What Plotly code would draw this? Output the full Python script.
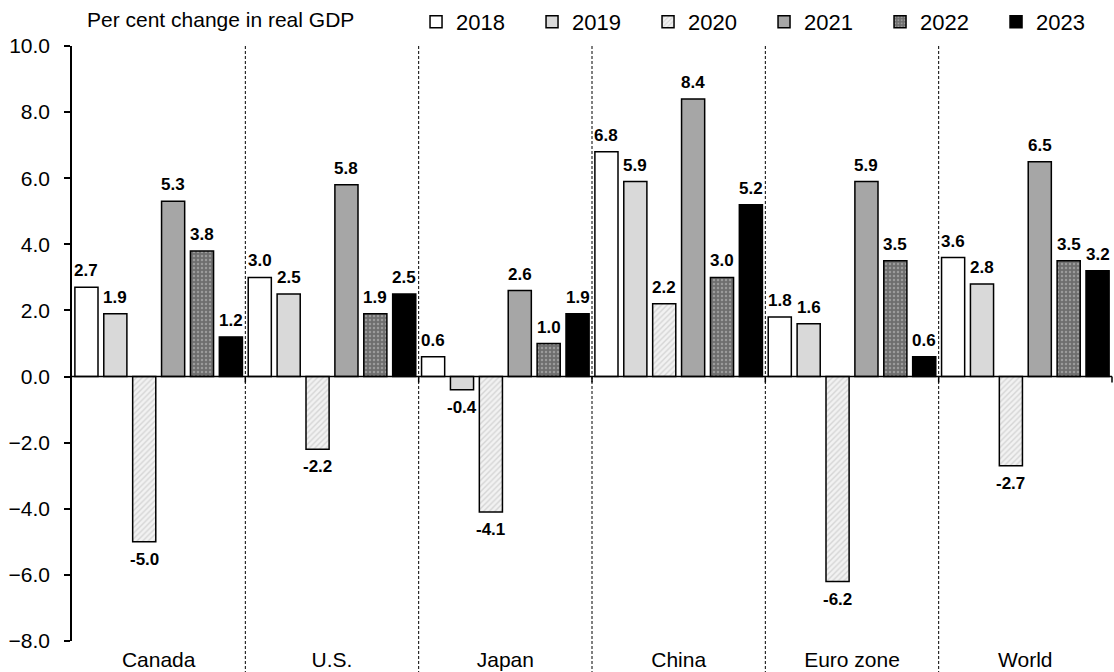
import plotly.graph_objects as go

regions = ["Canada", "U.S.", "Japan", "China", "Euro zone", "World"]
years = ["2018", "2019", "2020", "2021", "2022", "2023"]

growth_2018 = [2.7, 3.0, 0.6, 6.8, 1.8, 3.6]
growth_2019 = [1.9, 2.5, -0.4, 5.9, 1.6, 2.8]
growth_2020 = [-5.0, -2.2, -4.1, 2.2, -6.2, -2.7]
growth_2021 = [5.3, 5.8, 2.6, 8.4, 5.9, 6.5]
growth_2022 = [3.8, 1.9, 1.0, 3.0, 3.5, 3.5]
growth_2023 = [1.2, 2.5, 1.9, 5.2, 0.6, 3.2]

y_ticks = [-8, -6, -4, -2, 0, 2, 4, 6, 8, 10]

series = [growth_2018, growth_2019, growth_2020, growth_2021, growth_2022, growth_2023]

FONT = "Liberation Sans, Arial, sans-serif"

styles = [
    dict(color="#ffffff"),
    dict(color="#d9d9d9"),
    dict(color="#f2f2f2", pattern=dict(shape="/", bgcolor="#f2f2f2", fgcolor="#b8b8b8",
                                       size=4, solidity=0.35)),
    dict(color="#a6a6a6"),
    dict(color="#6e6e6e", pattern=dict(shape=".", bgcolor="#6e6e6e", fgcolor="#c8c8c8",
                                       size=4, solidity=0.3)),
    dict(color="#000000"),
]

fig = go.Figure()
for year, vals, st in zip(years, series, styles):
    fig.add_trace(go.Bar(
        name=year,
        x=regions,
        y=vals,
        marker=dict(line=dict(color="#000000", width=1.5), **st),
    ))

n = len(regions)
m = len(years)

# value labels: one per bar, centred on its slot within the region group
annotations = []
for i, vals in enumerate(series):
    for j, v in enumerate(vals):
        annotations.append(dict(
            x=j + (i - (m - 1) / 2) / m, y=v, xref="x", yref="y",
            text=f"{v:.1f}", showarrow=False,
            yanchor="bottom" if v >= 0 else "top",
            yshift=5 if v >= 0 else -6,
            font=dict(family=FONT, size=17, color="#000000", weight="bold"),
        ))
annotations.append(dict(text="Per cent change in real GDP", xref="paper", yref="paper",
                        x=0.0125, y=1.0453, xanchor="left", yanchor="middle",
                        showarrow=False, font=dict(family=FONT, size=21)))

shapes = []
# dashed separators between regions
for k in range(1, n):
    shapes.append(dict(type="line", xref="paper", yref="paper",
                       x0=k / n, x1=k / n, y0=1.0, y1=-0.055,
                       line=dict(color="#000000", width=1, dash="3px,2px")))
# zero line with downward ticks at region boundaries
shapes.append(dict(type="line", xref="paper", yref="y", x0=0, x1=1, y0=0, y1=0,
                   line=dict(color="#000000", width=1.5)))
for k in range(1, n + 1):
    shapes.append(dict(type="line", xref="paper", yref="y",
                       x0=k / n, x1=k / n, y0=0, y1=-0.18,
                       line=dict(color="#000000", width=1.5)))

fig.update_layout(
    width=1114, height=672,
    margin=dict(l=72, r=2, t=45, b=31),
    paper_bgcolor="#ffffff", plot_bgcolor="#ffffff",
    font=dict(family=FONT, color="#000000"),
    barmode="group", bargap=0.0, bargroupgap=0.2,
    showlegend=True,
    legend=dict(orientation="h", x=0.3308, xanchor="left", y=1.0386, yanchor="middle",
                font=dict(family=FONT, size=22), entrywidth=71,
                itemwidth=30, tracegroupgap=0, bgcolor="rgba(0,0,0,0)"),
    shapes=shapes,
    annotations=annotations,
)
fig.update_xaxes(showline=False, showgrid=False, ticks="", zeroline=False,
                 ticklabelstandoff=4,
                 tickfont=dict(family=FONT, size=21), range=[-0.5, n - 0.5])
fig.update_yaxes(range=[-8, 10], tickvals=y_ticks, tickformat=".1f",
                 showline=True, linecolor="#000000", linewidth=1.5,
                 ticks="outside", ticklen=6, tickwidth=1.5, tickcolor="#000000",
                 ticklabelstandoff=10,
                 showgrid=False, zeroline=False,
                 tickfont=dict(family=FONT, size=21))

fig.write_html("out.html")
